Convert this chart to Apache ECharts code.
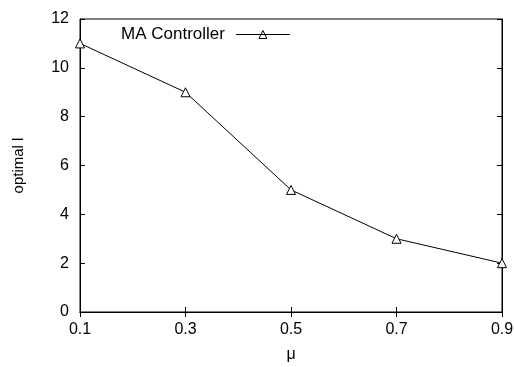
<!DOCTYPE html>
<html>
<head>
<meta charset="utf-8">
<script src="https://cdn.jsdelivr.net/npm/echarts@6/dist/echarts.min.js"></script>
<style>
  html, body { margin: 0; padding: 0; background: #fff; }
  #chart { width: 514px; height: 367px; }
</style>
</head>
<body>
<div id="chart"></div>
<script>
const muLabels = ['0.1', '0.3', '0.5', '0.7', '0.9']
const optimalL = [11, 9, 5, 3, 2]
const seriesName = 'MA Controller'

const font = 'Liberation Sans, Arial, sans-serif'
const chart = echarts.init(document.getElementById('chart'))

const tickStyle = { show: true, inside: true, length: 5, lineStyle: { color: '#000' } }

chart.setOption({
  animation: false,
  grid: {
    left: 80, right: 12, top: 19, bottom: 55,
    outerBoundsMode: 'none',
    containLabel: false,
    show: true, borderColor: '#000', borderWidth: 1,
  },
  legend: {
    data: [seriesName],
    left: 116,
    top: 21,
    align: 'right',
    itemWidth: 54,
    itemHeight: 8,
    icon: 'path://M0,4L54,4M23,8L27,0L31,8Z',
    itemStyle: { color: 'none', borderColor: '#000', borderWidth: 1 },
    lineStyle: { width: 1, color: '#000' },
    textStyle: { fontFamily: font, fontSize: 17, color: '#000', padding: [0, 6, 0, 0] },
  },
  xAxis: [
    {
      type: 'category',
      data: muLabels,
      boundaryGap: false,
      name: 'μ',
      nameLocation: 'middle',
      nameGap: 35,
      nameTextStyle: { fontFamily: font, fontSize: 16, color: '#000' },
      axisLine: { lineStyle: { color: '#000' } },
      axisTick: { ...tickStyle, alignWithLabel: true },
      axisLabel: { fontFamily: font, fontSize: 16, color: '#000', margin: 10 },
      splitLine: { show: false },
    },
    {
      type: 'category',
      data: muLabels,
      boundaryGap: false,
      position: 'top',
      axisLine: { lineStyle: { color: '#000' } },
      axisTick: tickStyle,
      axisLabel: { show: false },
    },
  ],
  yAxis: [
    {
      type: 'value',
      min: 0,
      max: 12,
      interval: 2,
      name: 'optimal l',
      nameLocation: 'middle',
      nameGap: 54,
      nameTextStyle: { fontFamily: font, fontSize: 15, color: '#000' },
      axisLine: { show: true, lineStyle: { color: '#000' } },
      axisTick: tickStyle,
      axisLabel: { fontFamily: font, fontSize: 16, color: '#000', margin: 11 },
      splitLine: { show: false },
    },
    {
      type: 'value',
      min: 0,
      max: 12,
      interval: 2,
      position: 'right',
      axisLine: { show: true, lineStyle: { color: '#000' } },
      axisTick: tickStyle,
      axisLabel: { show: false },
      splitLine: { show: false },
    },
  ],
  series: [
    {
      name: seriesName,
      type: 'line',
      data: optimalL,
      symbol: 'triangle',
      symbolSize: 9,
      lineStyle: { color: '#000', width: 1 },
      itemStyle: { color: '#fff', borderColor: '#000', borderWidth: 1 },
    },
  ],
})
</script>
</body>
</html>
